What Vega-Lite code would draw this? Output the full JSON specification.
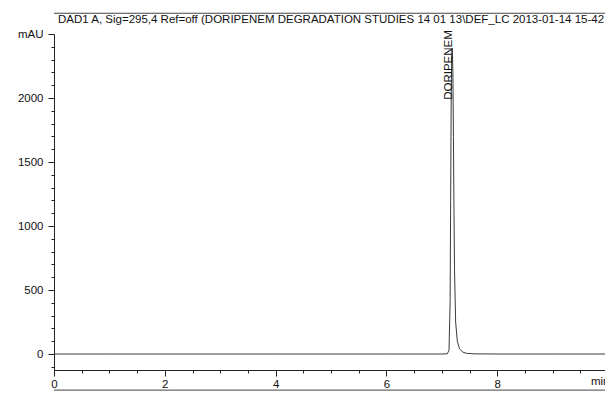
{
  "$schema": "https://vega.github.io/schema/vega-lite/v6.json",
  "autosize": {"type": "none"},
  "width": 554,
  "height": 336,
  "padding": {"left": 54, "top": 34, "right": 0, "bottom": 24},
  "background": "white",
  "config": {
    "view": {"stroke": null},
    "font": "Liberation Sans",
    "axis": {
      "grid": false,
      "domainColor": "#222",
      "domainWidth": 1,
      "tickColor": "#222",
      "tickWidth": 1,
      "labelColor": "#111",
      "labelFont": "Liberation Sans",
      "labelFontSize": 11.5,
      "labelFontWeight": "normal"
    }
  },
  "title": {
    "text": "DAD1 A, Sig=295,4 Ref=off (DORIPENEM DEGRADATION STUDIES 14 01 13\\DEF_LC 2013-01-14 15-42",
    "anchor": "start",
    "frame": "group",
    "offset": -22,
    "baseline": "alphabetic",
    "dx": 4,
    "font": "Liberation Sans",
    "fontSize": 11.5,
    "fontWeight": "normal",
    "color": "#111"
  },
  "resolve": {"axis": {"x": "independent", "y": "independent"}},
  "datasets": {
    "signal": [
      {"t": 0.0, "mAU": 0},
      {"t": 1.0, "mAU": 0},
      {"t": 2.0, "mAU": 0},
      {"t": 3.0, "mAU": 0},
      {"t": 4.0, "mAU": 0},
      {"t": 5.0, "mAU": 0},
      {"t": 6.0, "mAU": 0},
      {"t": 7.0, "mAU": 0},
      {"t": 7.1, "mAU": 2},
      {"t": 7.13, "mAU": 30},
      {"t": 7.15, "mAU": 400},
      {"t": 7.16, "mAU": 1200},
      {"t": 7.17, "mAU": 2000},
      {"t": 7.18, "mAU": 2370},
      {"t": 7.19, "mAU": 2390},
      {"t": 7.2, "mAU": 2200},
      {"t": 7.21, "mAU": 1700},
      {"t": 7.22, "mAU": 1100},
      {"t": 7.23, "mAU": 650},
      {"t": 7.25, "mAU": 250},
      {"t": 7.28, "mAU": 100},
      {"t": 7.32, "mAU": 40},
      {"t": 7.38, "mAU": 15},
      {"t": 7.45, "mAU": 5},
      {"t": 7.6, "mAU": 1},
      {"t": 8.0, "mAU": 0},
      {"t": 9.0, "mAU": 0},
      {"t": 10.0, "mAU": 0}
    ],
    "peaks": [
      {"t": 7.19, "name": "DORIPENEM"}
    ]
  },
  "layer": [
    {
      "data": {"values": [{"edge": "top"}]},
      "mark": {"type": "rule", "color": "#444", "strokeWidth": 1, "clip": false},
      "encoding": {
        "y": {"datum": 2662, "type": "quantitative", "axis": null}
      }
    },
    {
      "data": {"values": [{"edge": "bottom"}]},
      "mark": {"type": "rule", "color": "#444", "strokeWidth": 1, "clip": false},
      "encoding": {
        "y": {"datum": -282, "type": "quantitative", "axis": null}
      }
    },
    {
      "data": {"name": "signal"},
      "mark": {"type": "line", "color": "#3a3a3a", "strokeWidth": 1, "clip": true},
      "encoding": {
        "x": {
          "field": "t",
          "type": "quantitative",
          "scale": {"domain": [0, 10], "nice": false, "zero": false},
          "axis": {
            "title": null,
            "values": [0, 0.5, 1, 1.5, 2, 2.5, 3, 3.5, 4, 4.5, 5, 5.5, 6, 6.5, 7, 7.5, 8, 8.5, 9, 9.5, 9.85],
            "labelExpr": "datum.value == 9.85 ? 'min' : (datum.value % 2 === 0 ? format(datum.value, 'd') : '')",
            "tickSize": {"condition": {"test": "datum.value % 2 === 0", "value": 6}, "value": 3},
            "tickOpacity": {"condition": {"test": "datum.value == 9.85", "value": 0}, "value": 1},
            "labelPadding": 2,
            "labelFlush": false,
            "labelOverlap": false
          }
        },
        "y": {
          "field": "mAU",
          "type": "quantitative",
          "scale": {"domain": [-125, 2500], "nice": false, "zero": false},
          "axis": {
            "title": null,
            "values": [-100, 0, 100, 200, 300, 400, 500, 600, 700, 800, 900, 1000, 1100, 1200, 1300, 1400, 1500, 1600, 1700, 1800, 1900, 2000, 2100, 2200, 2300, 2400, 2500],
            "labelExpr": "datum.value === 2500 ? 'mAU' : (datum.value % 500 === 0 ? format(datum.value, 'd') : '')",
            "tickSize": {"condition": {"test": "datum.value % 500 === 0", "value": 6}, "value": 3},
            "labelPadding": 5,
            "labelOverlap": false,
            "labelFlush": false
          }
        }
      }
    },
    {
      "data": {"name": "peaks"},
      "mark": {"type": "text", "angle": 270, "align": "right", "baseline": "alphabetic", "font": "Liberation Sans", "fontSize": 11.5, "color": "#111"},
      "encoding": {
        "x": {"field": "t", "type": "quantitative", "axis": null},
        "y": {"datum": 2530, "axis": null},
        "text": {"field": "name"}
      }
    }
  ]
}
